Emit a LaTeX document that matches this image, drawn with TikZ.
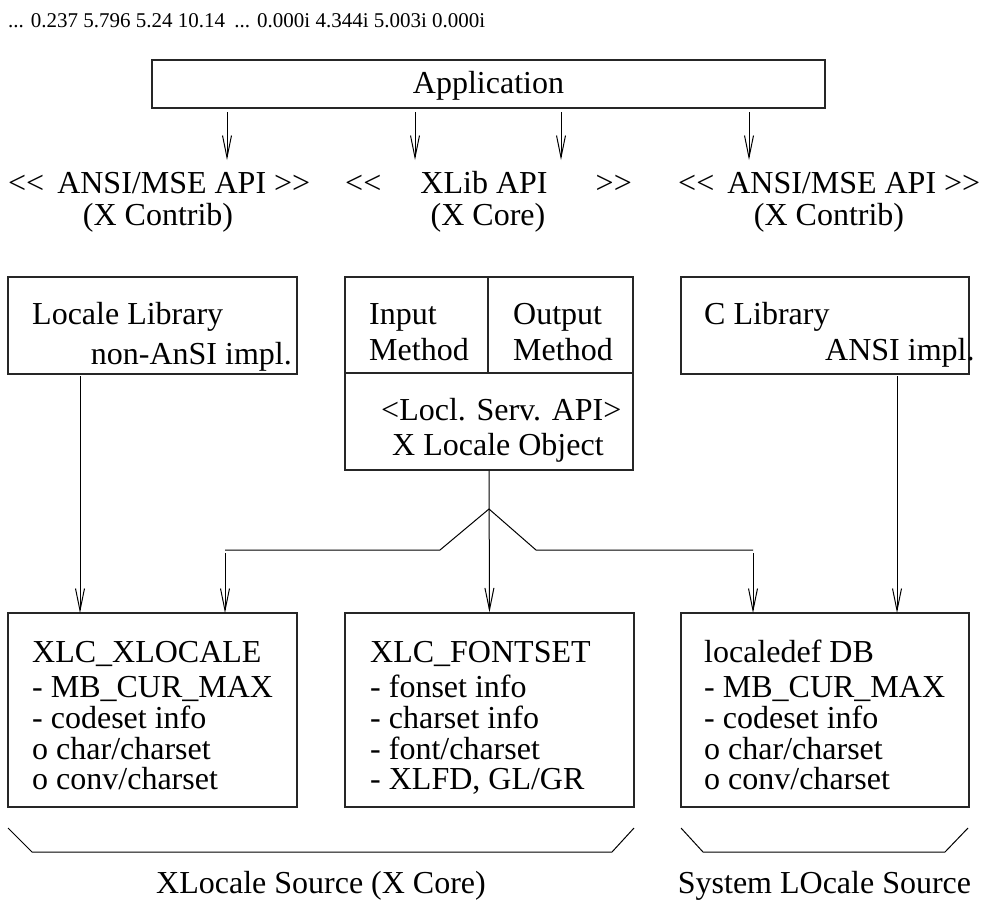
\documentclass[tikz,border=0pt]{standalone}
\usepackage{fontspec}
\setmainfont{Liberation Serif}
\usetikzlibrary{arrows.meta}
\newcommand\dlt{<\kern0pt<}
\newcommand\dgt{>\kern0pt>}
\begin{document}
\begin{tikzpicture}[x=1pt,y=-1pt,font=\fontsize{32}{34}\selectfont,
  box/.style={draw=black!85,line width=1.2pt,inner sep=0pt,rectangle},
  conn/.style={draw=black,line width=1pt},
  arr/.style={conn,-{Straight Barb[length=22pt,width=9pt]}},
  txt/.style={inner sep=0pt,anchor=base west},
  txte/.style={inner sep=0pt,anchor=base east},
  txtc/.style={inner sep=0pt,anchor=base}]
\useasboundingbox (0,0) rectangle (987,905);
\fill[white] (0,0) rectangle (987,905);

% top line
\node[txt,font=\fontsize{21}{21}\selectfont] (top) at (8,27) {... 0.237 5.796 5.24 10.14\hspace{4pt} ... 0.000i 4.344i 5.003i 0.000i};

% application
\node[box,minimum width=673pt,minimum height=48pt] (app) at (488.5,84) {};
\node[txtc] (apptxt) at (488.5,93) {Application};
\foreach \i/\x in {a/227,b/415,c/561,d/749}{
  \coordinate (as\i) at (\x,112);
  \coordinate (ae\i) at (\x,160);
  \draw[arr] (as\i) -- (ae\i);
}

% API labels
\node[txt] (l1) at (8,193) {\dlt\hspace{5pt} ANSI/MSE API \dgt};
\node[txt] (m1a) at (345,193) {\dlt};
\node[txtc] (m1b) at (484,193) {XLib API};
\node[txte] (m1c) at (632,193) {\dgt};
\node[txt] (r1) at (678,193) {\dlt\hspace{5pt} ANSI/MSE API \dgt};
\node[txtc] (l2) at (158,225) {(X Contrib)};
\node[txtc] (m2) at (488,225) {(X Core)};
\node[txtc] (r2) at (829,225) {(X Contrib)};

% middle row boxes
\node[box,minimum width=289pt,minimum height=97pt] (lb) at (152.5,325.5) {};
\node[box,minimum width=288pt,minimum height=193pt] (mb) at (489,373.5) {};
\node[box,minimum width=288pt,minimum height=97pt] (rb) at (825,325.5) {};
\coordinate (mdl) at (345,373);
\coordinate (mdr) at (633,373);
\coordinate (mdt) at (488,277);
\coordinate (mdb) at (488,373);
\draw[draw=black!85,line width=1.2pt] (mdl) -- (mdr);
\draw[draw=black!85,line width=1.2pt] (mdt) -- (mdb);

\node[txt] (t1) at (32,324) {Locale Library};
\node[txte] (t2) at (292,364) {non-AnSI impl.};
\node[txt] (t3) at (369,324) {Input};
\node[txt] (t4) at (369,360) {Method};
\node[txt] (t5) at (513,324) {Output};
\node[txt] (t6) at (513,360) {Method};
\node[txt] (t7) at (381,420) {<Locl. Serv. API>};
\node[txt] (t8) at (392,455) {X Locale Object};
\node[txt] (t9) at (704,324) {C Library};
\node[txt] (t10) at (825,360) {ANSI impl.};

% bottom boxes
\node[box,minimum width=289pt,minimum height=194pt] (bl) at (152.5,710) {};
\node[box,minimum width=289pt,minimum height=194pt] (bm) at (489.5,710) {};
\node[box,minimum width=288pt,minimum height=194pt] (br) at (825,710) {};

\node[txt] (x1) at (32,662) {XLC\_XLOCALE};
\node[txt] (x2) at (32,697) {- MB\_CUR\_MAX};
\node[txt] (x3) at (32,728) {- codeset info};
\node[txt] (x4) at (32,759) {o char/charset};
\node[txt] (x5) at (32,789) {o conv/charset};

\node[txt] (f1) at (370,662) {XLC\_FONTSET};
\node[txt] (f2) at (370,697) {- fonset info};
\node[txt] (f3) at (370,728) {- charset info};
\node[txt] (f4) at (370,759) {- font/charset};
\node[txt] (f5) at (370,789) {- XLFD, GL/GR};

\node[txt] (s1) at (704,662) {localedef DB};
\node[txt] (s2) at (704,697) {- MB\_CUR\_MAX};
\node[txt] (s3) at (704,728) {- codeset info};
\node[txt] (s4) at (704,759) {o char/charset};
\node[txt] (s5) at (704,789) {o conv/charset};

% connectors middle -> bottom
\coordinate (la) at (80,376);
\coordinate (lz) at (80,613);
\draw[arr] (la) -- (lz);
\coordinate (ra) at (897,376);
\coordinate (rz) at (897,613);
\draw[arr] (ra) -- (rz);

\coordinate (fork) at (489,509);
\coordinate (fl) at (440,550);
\coordinate (fle) at (225,550);
\coordinate (fr) at (536,550);
\coordinate (fre) at (753,550);
\draw[conn] (fle) -- (fl) -- (fork) -- (fr) -- (fre);
\draw[arr] (mb.south) -- (bm.north);
\coordinate (fla) at (225,553);
\coordinate (flz) at (225,613);
\coordinate (fra) at (753,553);
\coordinate (frz) at (753,613);
\draw[arr] (fla) -- (flz);
\draw[arr] (fra) -- (frz);

% brackets
\coordinate (b1) at (8,828);
\coordinate (b2) at (32,852);
\coordinate (b3) at (612,852);
\coordinate (b4) at (634,828);
\draw[conn] (b1) -- (b2) -- (b3) -- (b4);
\coordinate (c1) at (681,828);
\coordinate (c2) at (703,852);
\coordinate (c3) at (945,852);
\coordinate (c4) at (968,828);
\draw[conn] (c1) -- (c2) -- (c3) -- (c4);

\node[txtc] (xs) at (321,893) {XLocale Source (X Core)};
\node[txtc] (ss) at (824.5,893) {System LOcale Source};
\end{tikzpicture}
\end{document}
